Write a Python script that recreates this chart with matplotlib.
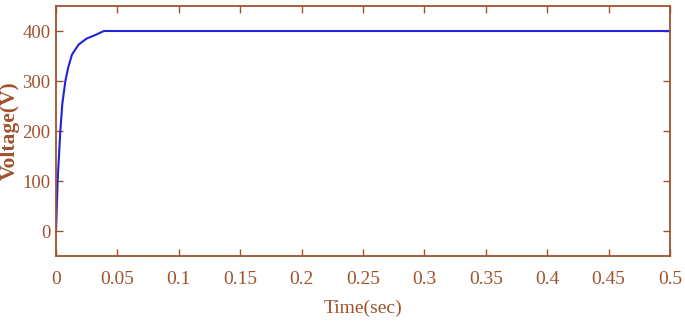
import matplotlib
matplotlib.use("Agg")
import matplotlib.pyplot as plt

time_s = [0, 0.0013, 0.0035, 0.0051, 0.0076, 0.0098, 0.013, 0.0184, 0.025, 0.032, 0.039,
          0.1, 0.2, 0.3, 0.4, 0.5]
voltage = [0, 100, 200, 254, 300, 326, 353, 373, 385, 392, 400,
           400, 400, 400, 400, 400]
xticks = [0, 0.05, 0.1, 0.15, 0.2, 0.25, 0.3, 0.35, 0.4, 0.45, 0.5]
xtick_labels = ["0", "0.05", "0.1", "0.15", "0.2", "0.25", "0.3", "0.35", "0.4", "0.45", "0.5"]
yticks = [0, 100, 200, 300, 400]

brown = "#A0522D"
plt.rcParams['font.family'] = ['Liberation Serif', 'DejaVu Serif']

fig = plt.figure(figsize=(6.85, 3.23), dpi=100)
ax = fig.add_axes([0.0818, 0.2074, 0.8962, 0.774])
ax.plot(time_s, voltage, color="#2222dd", linewidth=1.5)
ax.set_xlim(0, 0.5)
ax.set_ylim(-50, 450)
ax.set_xticks(xticks)
ax.set_xticklabels(xtick_labels)
ax.set_yticks(yticks)
for s in ax.spines.values():
    s.set_color(brown)
    s.set_linewidth(1.3)
ax.tick_params(direction="in", length=5, width=1, colors=brown, labelsize=14,
               top=True, right=True)
ax.tick_params(axis="x", pad=11)
ax.tick_params(axis="y", pad=4, labelsize=13.5)
ax.set_xlabel("Time(sec)", color=brown, fontsize=14, labelpad=8)
ax.set_ylabel("Voltage(V)", color=brown, fontsize=15.5, fontweight="bold",
              va="center", ha="center")
ax.yaxis.set_label_coords(-0.076, 0.5)
fig.savefig("out.png", dpi=100)
